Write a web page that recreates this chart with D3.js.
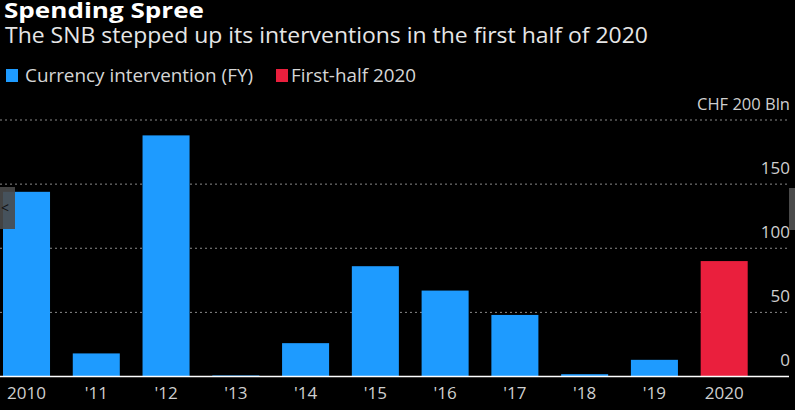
<!DOCTYPE html>
<html><head><meta charset="utf-8">
<script src="https://cdn.jsdelivr.net/npm/d3@7"></script>
<style>
html,body{margin:0;padding:0;background:#000;}
svg{display:block;}
text{font-family:"Open Sans",sans-serif;}
</style></head>
<body>
<script>
const categories = ["2010","'11","'12","'13","'14","'15","'16","'17","'18","'19","2020"];
const values = [144, 18, 188, 0.8, 26, 86, 67, 48, 1.8, 13, 90];
const seriesKind = ["fy","fy","fy","fy","fy","fy","fy","fy","fy","fy","h1"];
const yTicks = [0, 50, 100, 150, 200];
const legendLabels = ["Currency intervention (FY)", "First-half 2020"];
const colors = {fy: "#1e9bff", h1: "#ea1f3d"};

const W = 795, H = 410;
const svg = d3.select("body").append("svg").attr("width", W).attr("height", H);
svg.append("rect").attr("width", W).attr("height", H).attr("fill", "#000");

const x = d3.scaleBand().domain(categories).range([3, 747.7]).paddingInner(0.326).paddingOuter(0);
const y = d3.scaleLinear().domain([0, 200]).range([376.5, 120]);

// gridlines
const grid = svg.append("g");
yTicks.filter(t => t > 0).forEach(t => {
  grid.append("line").attr("x1", 0).attr("x2", 790).attr("y1", y(t)).attr("y2", y(t))
    .attr("stroke", "#8a8a8a").attr("stroke-width", 1).attr("stroke-dasharray", "2,3");
});

// bars
svg.append("g").selectAll("rect").data(categories).join("rect")
  .attr("x", d => x(d)).attr("width", x.bandwidth())
  .attr("y", (d,i) => y(values[i])).attr("height", (d,i) => y(0) - y(values[i]))
  .attr("fill", (d,i) => colors[seriesKind[i]]);

// baseline
svg.append("line").attr("x1", 0).attr("x2", 789).attr("y1", y(0)).attr("y2", y(0))
  .attr("stroke", "#fff").attr("stroke-width", 1.5);

// y labels
const yAxis = d3.axisRight(y).tickValues(yTicks).tickSize(0)
  .tickFormat(d => d === 200 ? "CHF 200 Bln" : d);
const yg = svg.append("g").attr("transform", "translate(790,0)").call(yAxis);
yg.select(".domain").remove();
yg.selectAll("text").attr("x", 0).attr("dy", null).attr("y", -11).attr("text-anchor", "end")
  .attr("fill", "#cfcfcf").style("font-size", "17px");
yg.selectAll(".tick").filter(d => d === 200).select("text")
  .attr("textLength", 93).attr("lengthAdjust", "spacingAndGlyphs");

// x labels
const xAxis = d3.axisBottom(x).tickSize(0);
const xg = svg.append("g").attr("transform", `translate(0,${y(0)})`).call(xAxis);
xg.select(".domain").remove();
xg.selectAll("text").attr("y", 22.5).attr("dy", null)
  .attr("fill", "#cfcfcf").style("font-size", "17px");

// title
svg.append("text").attr("x", 4).attr("y", 18).text("Spending Spree")
  .attr("fill", "#fff").style("font-size", "21px").style("font-weight", "bold")
  .attr("textLength", 200).attr("lengthAdjust", "spacingAndGlyphs");
svg.append("text").attr("x", 5).attr("y", 43).text("The SNB stepped up its interventions in the first half of 2020")
  .attr("fill", "#e6e6e6").style("font-size", "21px")
  .attr("textLength", 643).attr("lengthAdjust", "spacingAndGlyphs");

// legend
const legX = [6, 276];
const legW = [228, 125];
legendLabels.forEach((l, i) => {
  const k = i === 0 ? "fy" : "h1";
  svg.append("rect").attr("x", legX[i]).attr("y", 69).attr("width", 12).attr("height", 13).attr("fill", colors[k]);
  svg.append("text").attr("x", legX[i] + (i === 0 ? 19 : 15)).attr("y", 82).text(l)
    .attr("fill", "#d6d6d6").style("font-size", "18px")
    .attr("textLength", legW[i]).attr("lengthAdjust", "spacingAndGlyphs");
});

// UI tabs (decorative)
svg.append("rect").attr("x", 0).attr("y", 187).attr("width", 15).attr("height", 42).attr("fill", "#4a4a4a").attr("opacity", 0.9);
svg.append("text").attr("x", 1).attr("y", 213).text("<").attr("fill", "#111").style("font-size", "14px");
svg.append("rect").attr("x", 789).attr("y", 188).attr("width", 6).attr("height", 42).attr("fill", "#4a4a4a");
</script>
</body></html>
